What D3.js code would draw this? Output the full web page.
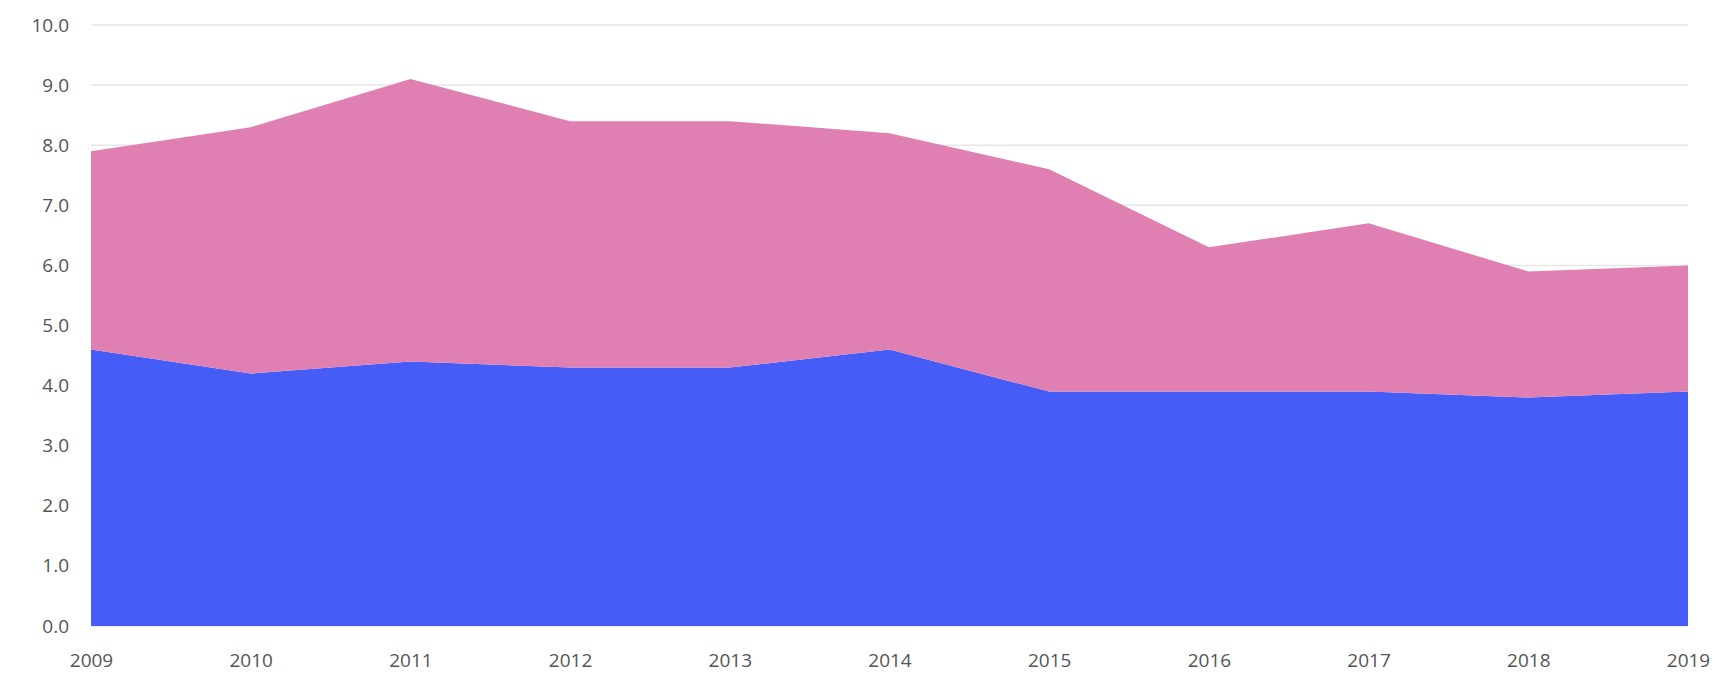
<!DOCTYPE html>
<html>
<head>
<meta charset="utf-8">
<script src="https://cdn.jsdelivr.net/npm/d3@7"></script>
<style>
  html, body { margin: 0; padding: 0; background: #fff; }
  svg { display: block; }
  .tick text { font-family: "Open Sans", "DejaVu Sans", sans-serif; fill: #555; }
</style>
</head>
<body>
<svg id="chart" width="1715" height="684"></svg>
<script>
const years = [2009, 2010, 2011, 2012, 2013, 2014, 2015, 2016, 2017, 2018, 2019];
const seriesBlue = [4.6, 4.2, 4.4, 4.3, 4.3, 4.6, 3.9, 3.9, 3.9, 3.8, 3.9];
const seriesPink = [3.3, 4.1, 4.7, 4.1, 4.1, 3.6, 3.7, 2.4, 2.8, 2.1, 2.1];
const yTicks = [0, 1, 2, 3, 4, 5, 6, 7, 8, 9, 10];
const seriesKeys = ["blue", "pink"];
const seriesColors = ["#465cf6", "#e07fb2"];

const W = 1715, H = 684;
const margin = {top: 25, right: 27, bottom: 58, left: 91};
const svg = d3.select("#chart");

const x = d3.scaleLinear().domain([years[0], years[years.length - 1]]).range([margin.left, W - margin.right]);
const y = d3.scaleLinear().domain([0, 10]).range([H - margin.bottom, margin.top]);

const table = years.map((yr, i) => ({year: yr, blue: seriesBlue[i], pink: seriesPink[i]}));
const stacked = d3.stack().keys(seriesKeys)(table);

// gridlines
svg.append("g")
  .selectAll("line")
  .data(yTicks)
  .join("line")
  .attr("x1", margin.left)
  .attr("x2", W - margin.right)
  .attr("y1", d => y(d))
  .attr("y2", d => y(d))
  .attr("stroke", "#e6e6e6")
  .attr("stroke-width", 1.5);

const area = d3.area()
  .x(d => x(d.data.year))
  .y0(d => y(d[0]))
  .y1(d => y(d[1]));

svg.append("g")
  .selectAll("path")
  .data(stacked)
  .join("path")
  .attr("fill", (d, i) => seriesColors[i])
  .attr("d", area);

// y axis
const yAxis = d3.axisLeft(y).tickValues(yTicks).tickFormat(d3.format(".1f")).tickSize(0).tickPadding(0);
const gy = svg.append("g").attr("transform", `translate(${margin.left - 22},0)`).call(yAxis);
gy.select(".domain").remove();
gy.selectAll("text").attr("font-size", 19);

// x axis
const xAxis = d3.axisBottom(x).tickValues(years).tickFormat(d3.format("d")).tickSize(0).tickPadding(0);
const gx = svg.append("g").attr("transform", `translate(0,${H - margin.bottom + 27})`).call(xAxis);
gx.select(".domain").remove();
gx.selectAll("text").attr("font-size", 19);
</script>
</body>
</html>
